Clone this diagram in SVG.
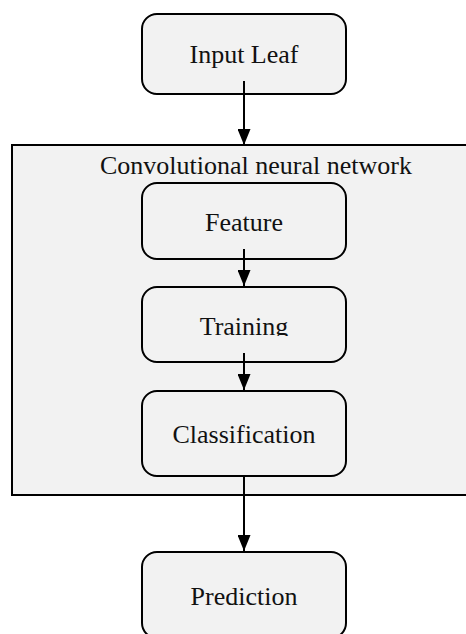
<svg xmlns="http://www.w3.org/2000/svg" width="466" height="634" viewBox="0 0 466 634">
<style>
.box{fill:#f2f2f2;stroke:#000;stroke-width:2}
.lbl{font-family:"Liberation Serif","Times New Roman",serif;font-size:26px;fill:#111;text-anchor:middle}
.conn{stroke:#000;stroke-width:2;fill:none;marker-end:url(#ah)}
</style>
<defs>
<marker id="ah" markerWidth="16" markerHeight="13" refX="16" refY="6.5" orient="auto" markerUnits="userSpaceOnUse">
<path d="M0,0 L16,6.5 L0,13 Z" fill="#000"/>
</marker>
<clipPath id="tclip"><rect x="0" y="0" width="466" height="336"/></clipPath>
</defs>
<rect width="466" height="634" fill="#fff"/>
<g id="cnn">
<rect class="box" x="12" y="145" width="470" height="350"/>
<text class="lbl" x="256" y="174">Convolutional neural network</text>
</g>
<g id="input-leaf">
<rect class="box" x="142" y="14" width="204" height="80" rx="15"/>
<text class="lbl" x="244" y="63">Input Leaf</text>
</g>
<g id="feature">
<rect class="box" x="142" y="183" width="204" height="76" rx="15"/>
<text class="lbl" x="244" y="231">Feature</text>
</g>
<g id="training">
<rect class="box" x="142" y="287" width="204" height="75" rx="15"/>
<text class="lbl" x="244" y="335" clip-path="url(#tclip)">Training</text>
</g>
<g id="classification">
<rect class="box" x="142" y="391" width="204" height="85" rx="15"/>
<text class="lbl" x="244" y="443">Classification</text>
</g>
<g id="prediction">
<rect class="box" x="142" y="552" width="204" height="86" rx="15"/>
<text class="lbl" x="244" y="605">Prediction</text>
</g>
<g id="connectors">
<line class="conn" x1="244" y1="81" x2="244" y2="145"/>
<line class="conn" x1="244" y1="249" x2="244" y2="286"/>
<line class="conn" x1="244" y1="353" x2="244" y2="390"/>
<line class="conn" x1="244" y1="476" x2="244" y2="551"/>
</g>
</svg>
